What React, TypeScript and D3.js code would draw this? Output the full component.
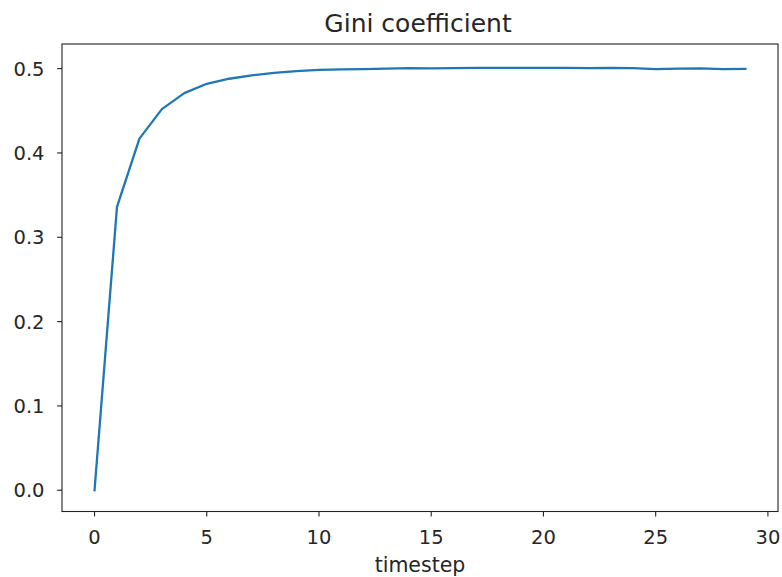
import React from 'react'
import * as d3 from 'd3'

const width = 782
const height = 577
const margin = { top: 44, right: 4, bottom: 65.5, left: 62 }

// gini per timestep
const timesteps = d3.range(0, 30)
const gini = [
  0, 0.336, 0.417, 0.452, 0.471, 0.482, 0.488, 0.492, 0.495, 0.497,
  0.4985, 0.499, 0.4995, 0.5, 0.5005, 0.5003, 0.5005, 0.5008, 0.501, 0.5008,
  0.501, 0.5008, 0.5005, 0.501, 0.5005, 0.4995, 0.5, 0.5002, 0.4995, 0.4997,
]
const xTicks = [0, 5, 10, 15, 20, 25, 30]
const yTicks = [0, 0.1, 0.2, 0.3, 0.4, 0.5]

const font = '"DejaVu Sans", sans-serif'
const textColor = '#262626'

// matplotlib style 5% padding
const pad = ([lo, hi]: number[]) => {
  const d = (hi - lo) * 0.05
  return [lo - d, hi + d]
}

const App = () => {
  const data = timesteps.map((t, i) => ({ t, g: gini[i] }))

  const xScale = d3.scaleLinear()
    .domain(pad(d3.extent(timesteps) as number[]))
    .range([margin.left, width - margin.right])

  const yScale = d3.scaleLinear()
    .domain(pad([0, 0.504]))
    .range([height - margin.bottom, margin.top])

  const line = d3.line<{ t: number; g: number }>()
    .x(d => xScale(d.t))
    .y(d => yScale(d.g))

  const x0 = margin.left
  const x1 = width - margin.right
  const y0 = margin.top
  const y1 = height - margin.bottom

  return (
    <svg width={width} height={height} style={{ position: 'absolute', left: 0, top: 0, background: '#fff' }}>
      <rect x={0} y={0} width={width} height={height} fill='#fff' />
      <path d={line(data) || ''} fill='none' stroke='#1f77b4' strokeWidth={2.3} strokeLinejoin='round' strokeLinecap='square' />
      <rect x={x0} y={y0} width={x1 - x0} height={y1 - y0} fill='none' stroke='#222' strokeWidth={1.1} />

      {xTicks.map(t => (
        <g key={'x' + t} transform={`translate(${xScale(t)}, ${y1})`}>
          <line y2={4.9} stroke='#222' strokeWidth={1.1} />
          <text y={32} textAnchor='middle' fontFamily={font} fontSize={19.5} fill={textColor}>{t}</text>
        </g>
      ))}

      {yTicks.map(t => (
        <g key={'y' + t} transform={`translate(${x0}, ${yScale(t)})`}>
          <line x2={-4.9} stroke='#222' strokeWidth={1.1} />
          <text x={-17.5} dy='0.36em' textAnchor='end' fontFamily={font} fontSize={19.5} fill={textColor}>{t.toFixed(1)}</text>
        </g>
      ))}

      <text x={(x0 + x1) / 2} y={572} textAnchor='middle' fontFamily={font} fontSize={20.5} fill={textColor}>timestep</text>
      <text x={(x0 + x1) / 2 - 2} y={31.5} textAnchor='middle' fontFamily={font} fontSize={25} fill={textColor}>Gini coefficient</text>
    </svg>
  )
}

export default App
